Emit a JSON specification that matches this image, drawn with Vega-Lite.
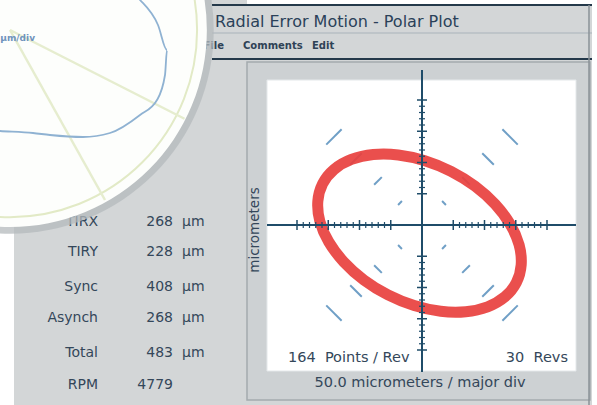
{
  "$schema": "https://vega.github.io/schema/vega-lite/v6.json",
  "width": 597,
  "height": 405,
  "autosize": {"type": "none"},
  "padding": 0,
  "background": "#ffffff",
  "config": {"view": {"stroke": null}},
  "datasets": {
    "panels": [
      {"kind": "gray", "x": -336, "x2": 272, "y": 352, "y2": -288},
      {"kind": "gray", "x": -652.8, "x2": -280, "y": 360, "y2": -288},
      {"kind": "frame", "x": -280, "x2": 268.8, "y": 260.8, "y2": -280},
      {"kind": "plot", "x": -248, "x2": 246.4, "y": 232, "y2": -233.6}
    ],
    "lines": [
      {"kind": "dark", "x": -336, "x2": 272, "y": 352, "y2": 352},
      {"kind": "light", "x": -336, "x2": 272, "y": 307.2, "y2": 307.2},
      {"kind": "dark", "x": -336, "x2": 272, "y": 265.6, "y2": 265.6},
      {"kind": "border", "x": 267.2, "x2": 267.2, "y": 352, "y2": -288},
      {"kind": "axis", "x": -248, "x2": 246.4, "y": 0, "y2": 0},
      {"kind": "axis", "x": 0, "x2": 0, "y": 248, "y2": -235.2}
    ],
    "arcs": [
      {"x": 38.3, "y": 32.1, "x2": 32.1, "y2": 38.3},
      {"x": 76.6, "y": 64.3, "x2": 64.3, "y2": 76.6},
      {"x": 114.9, "y": 96.4, "x2": 96.4, "y2": 114.9},
      {"x": 153.2, "y": 128.6, "x2": 128.6, "y2": 153.2},
      {"x": -32.1, "y": 38.3, "x2": -38.3, "y2": 32.1},
      {"x": -64.3, "y": 76.6, "x2": -76.6, "y2": 64.3},
      {"x": -96.4, "y": 114.9, "x2": -114.9, "y2": 96.4},
      {"x": -128.6, "y": 153.2, "x2": -153.2, "y2": 128.6},
      {"x": -38.3, "y": -32.1, "x2": -32.1, "y2": -38.3},
      {"x": -76.6, "y": -64.3, "x2": -64.3, "y2": -76.6},
      {"x": -114.9, "y": -96.4, "x2": -96.4, "y2": -114.9},
      {"x": -153.2, "y": -128.6, "x2": -128.6, "y2": -153.2},
      {"x": 32.1, "y": -38.3, "x2": 38.3, "y2": -32.1},
      {"x": 64.3, "y": -76.6, "x2": 76.6, "y2": -64.3},
      {"x": 96.4, "y": -114.9, "x2": 114.9, "y2": -96.4},
      {"x": 128.6, "y": -153.2, "x2": 153.2, "y2": -128.6}
    ],
    "ellipse": [
      {"i": 0, "x": 151, "y": -92},
      {"i": 1, "x": 158.7, "y": -63.7},
      {"i": 2, "x": 155.4, "y": -31.9},
      {"i": 3, "x": 141.2, "y": 1},
      {"i": 4, "x": 117.1, "y": 33.1},
      {"i": 5, "x": 84.8, "y": 62.1},
      {"i": 6, "x": 46.4, "y": 85.9},
      {"i": 7, "x": 4.6, "y": 102.9},
      {"i": 8, "x": -37.9, "y": 112.1},
      {"i": 9, "x": -78, "y": 112.8},
      {"i": 10, "x": -113, "y": 104.9},
      {"i": 11, "x": -140.7, "y": 88.9},
      {"i": 12, "x": -159, "y": 66},
      {"i": 13, "x": -166.7, "y": 37.7},
      {"i": 14, "x": -163.4, "y": 5.9},
      {"i": 15, "x": -149.2, "y": -27},
      {"i": 16, "x": -125.1, "y": -59.1},
      {"i": 17, "x": -92.8, "y": -88.1},
      {"i": 18, "x": -54.4, "y": -111.9},
      {"i": 19, "x": -12.6, "y": -128.9},
      {"i": 20, "x": 29.9, "y": -138.1},
      {"i": 21, "x": 70, "y": -138.8},
      {"i": 22, "x": 105, "y": -130.9},
      {"i": 23, "x": 132.7, "y": -114.9}
    ],
    "ticks": [
      {"pos": 50, "kind": "major"}, {"pos": 60, "kind": "minor"}, {"pos": 70, "kind": "minor"}, {"pos": 80, "kind": "minor"}, {"pos": 90, "kind": "minor"},
      {"pos": 100, "kind": "major"}, {"pos": 110, "kind": "minor"}, {"pos": 120, "kind": "minor"}, {"pos": 130, "kind": "minor"}, {"pos": 140, "kind": "minor"},
      {"pos": 150, "kind": "major"}, {"pos": 160, "kind": "minor"}, {"pos": 170, "kind": "minor"}, {"pos": 180, "kind": "minor"}, {"pos": 190, "kind": "minor"},
      {"pos": 200, "kind": "major"},
      {"pos": -50, "kind": "major"}, {"pos": -60, "kind": "minor"}, {"pos": -70, "kind": "minor"}, {"pos": -80, "kind": "minor"}, {"pos": -90, "kind": "minor"},
      {"pos": -100, "kind": "major"}, {"pos": -110, "kind": "minor"}, {"pos": -120, "kind": "minor"}, {"pos": -130, "kind": "minor"}, {"pos": -140, "kind": "minor"},
      {"pos": -150, "kind": "major"}, {"pos": -160, "kind": "minor"}, {"pos": -170, "kind": "minor"}, {"pos": -180, "kind": "minor"}, {"pos": -190, "kind": "minor"},
      {"pos": -200, "kind": "major"}
    ],
    "texts": [
      {"role": "label", "x": -518.4, "y": 4.8, "text": "TIRX"},
      {"role": "label", "x": -518.4, "y": -43.2, "text": "TIRY"},
      {"role": "label", "x": -518.4, "y": -99.2, "text": "Sync"},
      {"role": "label", "x": -518.4, "y": -148.8, "text": "Asynch"},
      {"role": "label", "x": -518.4, "y": -204.8, "text": "Total"},
      {"role": "label", "x": -518.4, "y": -256, "text": "RPM"},
      {"role": "value", "x": -398.4, "y": 4.8, "text": "268"},
      {"role": "value", "x": -398.4, "y": -43.2, "text": "228"},
      {"role": "value", "x": -398.4, "y": -99.2, "text": "408"},
      {"role": "value", "x": -398.4, "y": -148.8, "text": "268"},
      {"role": "value", "x": -398.4, "y": -204.8, "text": "483"},
      {"role": "value", "x": -398.4, "y": -256, "text": "4779"},
      {"role": "unit", "x": -384, "y": 4.8, "text": "µm"},
      {"role": "unit", "x": -384, "y": -43.2, "text": "µm"},
      {"role": "unit", "x": -384, "y": -99.2, "text": "µm"},
      {"role": "unit", "x": -384, "y": -148.8, "text": "µm"},
      {"role": "unit", "x": -384, "y": -204.8, "text": "µm"},
      {"role": "title", "x": -331.2, "y": 324.8, "text": "Radial Error Motion - Polar Plot"},
      {"role": "menuR", "x": -316.8, "y": 286.4, "text": "File"},
      {"role": "menuL", "x": -286.4, "y": 286.4, "text": "Comments"},
      {"role": "menuL", "x": -176, "y": 286.4, "text": "Edit"},
      {"role": "plotL", "x": -214.4, "y": -212.8, "text": "164\u00a0 Points / Rev"},
      {"role": "plotR", "x": 233.6, "y": -212.8, "text": "30\u00a0 Revs"},
      {"role": "plotC", "x": -3.2, "y": -252.8, "text": "50.0 micrometers / major div"},
      {"role": "ytitle", "x": -267.2, "y": -8, "text": "micrometers"},
      {"role": "blue", "x": -619.2, "y": 299.2, "text": "µm/div"}
    ],
    "inset": [{"x": -659.2, "y": 312}],
    "radials": [
      {"x": -659.2, "y": 312, "x2": -380, "y2": 170},
      {"x": -659.2, "y": 312, "x2": -507.2, "y2": 40}
    ],
    "trace": [
      {"i": 0, "x": -470.4, "y": 376},
      {"i": 1, "x": -451.2, "y": 360},
      {"i": 2, "x": -422.4, "y": 320},
      {"i": 3, "x": -408, "y": 280},
      {"i": 4, "x": -411.2, "y": 240},
      {"i": 5, "x": -424, "y": 200},
      {"i": 6, "x": -451.2, "y": 176},
      {"i": 7, "x": -499.2, "y": 147.2},
      {"i": 8, "x": -542.4, "y": 140.8},
      {"i": 9, "x": -595.2, "y": 144},
      {"i": 10, "x": -622.4, "y": 147.2},
      {"i": 11, "x": -675.2, "y": 150.4},
      {"i": 12, "x": -699.2, "y": 152}
    ]
  },
  "layer": [
    {
      "data": {"name": "panels"},
      "transform": [{"filter": "datum.kind === 'gray'"}],
      "mark": {"type": "rect", "color": "#d3d6d7"},
      "encoding": {
        "x": {"field": "x", "type": "quantitative", "scale": {"domain": [-675.2, 280], "nice": false, "zero": false}, "axis": null},
        "x2": {"field": "x2"},
        "y": {"field": "y", "type": "quantitative", "scale": {"domain": [-288, 360], "nice": false, "zero": false}, "axis": null},
        "y2": {"field": "y2"}
      }
    },
    {
      "data": {"name": "panels"},
      "transform": [{"filter": "datum.kind === 'frame'"}],
      "mark": {"type": "rect", "fill": "#cdd1d3", "stroke": "#a4aaae", "strokeWidth": 1.5},
      "encoding": {
        "x": {"field": "x", "type": "quantitative", "scale": {"domain": [-675.2, 280], "nice": false, "zero": false}, "axis": null},
        "x2": {"field": "x2"},
        "y": {"field": "y", "type": "quantitative", "scale": {"domain": [-288, 360], "nice": false, "zero": false}, "axis": null},
        "y2": {"field": "y2"}
      }
    },
    {
      "data": {"name": "panels"},
      "transform": [{"filter": "datum.kind === 'plot'"}],
      "mark": {"type": "rect", "fill": "#ffffff", "stroke": "#e4e8ea", "strokeWidth": 1},
      "encoding": {
        "x": {"field": "x", "type": "quantitative", "scale": {"domain": [-675.2, 280], "nice": false, "zero": false}, "axis": null},
        "x2": {"field": "x2"},
        "y": {"field": "y", "type": "quantitative", "scale": {"domain": [-288, 360], "nice": false, "zero": false}, "axis": null},
        "y2": {"field": "y2"}
      }
    },
    {
      "data": {"name": "lines"},
      "transform": [{"filter": "datum.kind === 'dark'"}],
      "mark": {"type": "rule", "color": "#24394a", "strokeWidth": 2},
      "encoding": {
        "x": {"field": "x", "type": "quantitative", "scale": {"domain": [-675.2, 280], "nice": false, "zero": false}, "axis": null},
        "x2": {"field": "x2"},
        "y": {"field": "y", "type": "quantitative", "scale": {"domain": [-288, 360], "nice": false, "zero": false}, "axis": null},
        "y2": {"field": "y2"}
      }
    },
    {
      "data": {"name": "lines"},
      "transform": [{"filter": "datum.kind === 'light'"}],
      "mark": {"type": "rule", "color": "#a9b3ba", "strokeWidth": 1},
      "encoding": {
        "x": {"field": "x", "type": "quantitative", "scale": {"domain": [-675.2, 280], "nice": false, "zero": false}, "axis": null},
        "x2": {"field": "x2"},
        "y": {"field": "y", "type": "quantitative", "scale": {"domain": [-288, 360], "nice": false, "zero": false}, "axis": null},
        "y2": {"field": "y2"}
      }
    },
    {
      "data": {"name": "lines"},
      "transform": [{"filter": "datum.kind === 'border'"}],
      "mark": {"type": "rule", "color": "#8a9297", "strokeWidth": 1.5},
      "encoding": {
        "x": {"field": "x", "type": "quantitative", "scale": {"domain": [-675.2, 280], "nice": false, "zero": false}, "axis": null},
        "x2": {"field": "x2"},
        "y": {"field": "y", "type": "quantitative", "scale": {"domain": [-288, 360], "nice": false, "zero": false}, "axis": null},
        "y2": {"field": "y2"}
      }
    },
    {
      "data": {"name": "arcs"},
      "mark": {"type": "rule", "color": "#6f9fc6", "strokeWidth": 2},
      "encoding": {
        "x": {"field": "x", "type": "quantitative", "scale": {"domain": [-675.2, 280], "nice": false, "zero": false}, "axis": null},
        "x2": {"field": "x2"},
        "y": {"field": "y", "type": "quantitative", "scale": {"domain": [-288, 360], "nice": false, "zero": false}, "axis": null},
        "y2": {"field": "y2"}
      }
    },
    {
      "data": {"name": "ellipse"},
      "mark": {"type": "line", "color": "#e8403e", "strokeWidth": 11, "interpolate": "cardinal-closed", "opacity": 0.92},
      "encoding": {
        "x": {"field": "x", "type": "quantitative", "scale": {"domain": [-675.2, 280], "nice": false, "zero": false}, "axis": null},
        "y": {"field": "y", "type": "quantitative", "scale": {"domain": [-288, 360], "nice": false, "zero": false}, "axis": null},
        "order": {"field": "i", "type": "quantitative"}
      }
    },
    {
      "data": {"name": "lines"},
      "transform": [{"filter": "datum.kind === 'axis'"}],
      "mark": {"type": "rule", "color": "#1f4c69", "strokeWidth": 2},
      "encoding": {
        "x": {"field": "x", "type": "quantitative", "scale": {"domain": [-675.2, 280], "nice": false, "zero": false}, "axis": null},
        "x2": {"field": "x2"},
        "y": {"field": "y", "type": "quantitative", "scale": {"domain": [-288, 360], "nice": false, "zero": false}, "axis": null},
        "y2": {"field": "y2"}
      }
    },
    {
      "data": {"name": "ticks"},
      "transform": [{"filter": "datum.kind === 'major'"}],
      "mark": {"type": "rule", "color": "#1f4c69", "strokeWidth": 1.5},
      "encoding": {
        "x": {"field": "pos", "type": "quantitative", "scale": {"domain": [-675.2, 280], "nice": false, "zero": false}, "axis": null},
        "y": {"datum": -8, "type": "quantitative", "scale": {"domain": [-288, 360], "nice": false, "zero": false}, "axis": null},
        "y2": {"datum": 8}
      }
    },
    {
      "data": {"name": "ticks"},
      "transform": [{"filter": "datum.kind === 'minor'"}],
      "mark": {"type": "rule", "color": "#1f4c69", "strokeWidth": 1.2},
      "encoding": {
        "x": {"field": "pos", "type": "quantitative", "scale": {"domain": [-675.2, 280], "nice": false, "zero": false}, "axis": null},
        "y": {"datum": -4.8, "type": "quantitative", "scale": {"domain": [-288, 360], "nice": false, "zero": false}, "axis": null},
        "y2": {"datum": 4.8}
      }
    },
    {
      "data": {"name": "ticks"},
      "transform": [{"filter": "datum.kind === 'major'"}],
      "mark": {"type": "rule", "color": "#1f4c69", "strokeWidth": 1.5},
      "encoding": {
        "y": {"field": "pos", "type": "quantitative", "scale": {"domain": [-288, 360], "nice": false, "zero": false}, "axis": null},
        "x": {"datum": -8, "type": "quantitative", "scale": {"domain": [-675.2, 280], "nice": false, "zero": false}, "axis": null},
        "x2": {"datum": 8}
      }
    },
    {
      "data": {"name": "ticks"},
      "transform": [{"filter": "datum.kind === 'minor'"}],
      "mark": {"type": "rule", "color": "#1f4c69", "strokeWidth": 1.2},
      "encoding": {
        "y": {"field": "pos", "type": "quantitative", "scale": {"domain": [-288, 360], "nice": false, "zero": false}, "axis": null},
        "x": {"datum": -4.8, "type": "quantitative", "scale": {"domain": [-675.2, 280], "nice": false, "zero": false}, "axis": null},
        "x2": {"datum": 4.8}
      }
    },
    {
      "data": {"name": "texts"},
      "transform": [{"filter": "datum.role === 'label' || datum.role === 'value'"}],
      "mark": {"type": "text", "align": "right", "baseline": "middle", "font": "DejaVu Sans", "fontSize": 14, "color": "#34475a"},
      "encoding": {
        "x": {"field": "x", "type": "quantitative", "scale": {"domain": [-675.2, 280], "nice": false, "zero": false}, "axis": null},
        "y": {"field": "y", "type": "quantitative", "scale": {"domain": [-288, 360], "nice": false, "zero": false}, "axis": null},
        "text": {"field": "text"}
      }
    },
    {
      "data": {"name": "texts"},
      "transform": [{"filter": "datum.role === 'unit'"}],
      "mark": {"type": "text", "align": "left", "baseline": "middle", "font": "DejaVu Sans", "fontSize": 14, "color": "#34475a"},
      "encoding": {
        "x": {"field": "x", "type": "quantitative", "scale": {"domain": [-675.2, 280], "nice": false, "zero": false}, "axis": null},
        "y": {"field": "y", "type": "quantitative", "scale": {"domain": [-288, 360], "nice": false, "zero": false}, "axis": null},
        "text": {"field": "text"}
      }
    },
    {
      "data": {"name": "texts"},
      "transform": [{"filter": "datum.role === 'title'"}],
      "mark": {"type": "text", "align": "left", "baseline": "middle", "font": "DejaVu Sans", "fontSize": 16, "color": "#2a4159"},
      "encoding": {
        "x": {"field": "x", "type": "quantitative", "scale": {"domain": [-675.2, 280], "nice": false, "zero": false}, "axis": null},
        "y": {"field": "y", "type": "quantitative", "scale": {"domain": [-288, 360], "nice": false, "zero": false}, "axis": null},
        "text": {"field": "text"}
      }
    },
    {
      "data": {"name": "texts"},
      "transform": [{"filter": "datum.role === 'menuR'"}],
      "mark": {"type": "text", "align": "right", "baseline": "middle", "font": "DejaVu Sans", "fontSize": 10, "fontWeight": "bold", "color": "#2f4256"},
      "encoding": {
        "x": {"field": "x", "type": "quantitative", "scale": {"domain": [-675.2, 280], "nice": false, "zero": false}, "axis": null},
        "y": {"field": "y", "type": "quantitative", "scale": {"domain": [-288, 360], "nice": false, "zero": false}, "axis": null},
        "text": {"field": "text"}
      }
    },
    {
      "data": {"name": "texts"},
      "transform": [{"filter": "datum.role === 'menuL'"}],
      "mark": {"type": "text", "align": "left", "baseline": "middle", "font": "DejaVu Sans", "fontSize": 10, "fontWeight": "bold", "color": "#2f4256"},
      "encoding": {
        "x": {"field": "x", "type": "quantitative", "scale": {"domain": [-675.2, 280], "nice": false, "zero": false}, "axis": null},
        "y": {"field": "y", "type": "quantitative", "scale": {"domain": [-288, 360], "nice": false, "zero": false}, "axis": null},
        "text": {"field": "text"}
      }
    },
    {
      "data": {"name": "texts"},
      "transform": [{"filter": "datum.role === 'plotL'"}],
      "mark": {"type": "text", "align": "left", "baseline": "middle", "font": "DejaVu Sans", "fontSize": 14.5, "color": "#34475a"},
      "encoding": {
        "x": {"field": "x", "type": "quantitative", "scale": {"domain": [-675.2, 280], "nice": false, "zero": false}, "axis": null},
        "y": {"field": "y", "type": "quantitative", "scale": {"domain": [-288, 360], "nice": false, "zero": false}, "axis": null},
        "text": {"field": "text"}
      }
    },
    {
      "data": {"name": "texts"},
      "transform": [{"filter": "datum.role === 'plotR'"}],
      "mark": {"type": "text", "align": "right", "baseline": "middle", "font": "DejaVu Sans", "fontSize": 14.5, "color": "#34475a"},
      "encoding": {
        "x": {"field": "x", "type": "quantitative", "scale": {"domain": [-675.2, 280], "nice": false, "zero": false}, "axis": null},
        "y": {"field": "y", "type": "quantitative", "scale": {"domain": [-288, 360], "nice": false, "zero": false}, "axis": null},
        "text": {"field": "text"}
      }
    },
    {
      "data": {"name": "texts"},
      "transform": [{"filter": "datum.role === 'plotC'"}],
      "mark": {"type": "text", "align": "center", "baseline": "middle", "font": "DejaVu Sans", "fontSize": 14.5, "color": "#34475a"},
      "encoding": {
        "x": {"field": "x", "type": "quantitative", "scale": {"domain": [-675.2, 280], "nice": false, "zero": false}, "axis": null},
        "y": {"field": "y", "type": "quantitative", "scale": {"domain": [-288, 360], "nice": false, "zero": false}, "axis": null},
        "text": {"field": "text"}
      }
    },
    {
      "data": {"name": "texts"},
      "transform": [{"filter": "datum.role === 'ytitle'"}],
      "mark": {"type": "text", "align": "center", "baseline": "middle", "angle": 270, "font": "DejaVu Sans", "fontSize": 13.5, "color": "#34475a"},
      "encoding": {
        "x": {"field": "x", "type": "quantitative", "scale": {"domain": [-675.2, 280], "nice": false, "zero": false}, "axis": null},
        "y": {"field": "y", "type": "quantitative", "scale": {"domain": [-288, 360], "nice": false, "zero": false}, "axis": null},
        "text": {"field": "text"}
      }
    },
    {
      "data": {"name": "inset"},
      "mark": {"type": "point", "shape": "circle", "filled": true, "color": "#b4b9bc", "opacity": 0.75, "size": 166000},
      "encoding": {
        "x": {"field": "x", "type": "quantitative", "scale": {"domain": [-675.2, 280], "nice": false, "zero": false}, "axis": null},
        "y": {"field": "y", "type": "quantitative", "scale": {"domain": [-288, 360], "nice": false, "zero": false}, "axis": null}
      }
    },
    {
      "data": {"name": "inset"},
      "mark": {"type": "point", "shape": "circle", "filled": true, "color": "#fdfefc", "opacity": 1, "size": 155000},
      "encoding": {
        "x": {"field": "x", "type": "quantitative", "scale": {"domain": [-675.2, 280], "nice": false, "zero": false}, "axis": null},
        "y": {"field": "y", "type": "quantitative", "scale": {"domain": [-288, 360], "nice": false, "zero": false}, "axis": null}
      }
    },
    {
      "data": {"name": "inset"},
      "mark": {"type": "point", "shape": "circle", "filled": false, "stroke": "#e2eac6", "strokeWidth": 2, "opacity": 1, "size": 140000},
      "encoding": {
        "x": {"field": "x", "type": "quantitative", "scale": {"domain": [-675.2, 280], "nice": false, "zero": false}, "axis": null},
        "y": {"field": "y", "type": "quantitative", "scale": {"domain": [-288, 360], "nice": false, "zero": false}, "axis": null}
      }
    },
    {
      "data": {"name": "radials"},
      "mark": {"type": "rule", "color": "#e6edcf", "strokeWidth": 2.5},
      "encoding": {
        "x": {"field": "x", "type": "quantitative", "scale": {"domain": [-675.2, 280], "nice": false, "zero": false}, "axis": null},
        "x2": {"field": "x2"},
        "y": {"field": "y", "type": "quantitative", "scale": {"domain": [-288, 360], "nice": false, "zero": false}, "axis": null},
        "y2": {"field": "y2"}
      }
    },
    {
      "data": {"name": "trace"},
      "mark": {"type": "line", "color": "#8fb2d2", "strokeWidth": 1.8, "interpolate": "monotone"},
      "encoding": {
        "x": {"field": "x", "type": "quantitative", "scale": {"domain": [-675.2, 280], "nice": false, "zero": false}, "axis": null},
        "y": {"field": "y", "type": "quantitative", "scale": {"domain": [-288, 360], "nice": false, "zero": false}, "axis": null},
        "order": {"field": "i", "type": "quantitative"}
      }
    },
    {
      "data": {"name": "texts"},
      "transform": [{"filter": "datum.role === 'blue'"}],
      "mark": {"type": "text", "align": "right", "baseline": "middle", "font": "DejaVu Sans", "fontSize": 9, "fontWeight": "bold", "color": "#6f93bd"},
      "encoding": {
        "x": {"field": "x", "type": "quantitative", "scale": {"domain": [-675.2, 280], "nice": false, "zero": false}, "axis": null},
        "y": {"field": "y", "type": "quantitative", "scale": {"domain": [-288, 360], "nice": false, "zero": false}, "axis": null},
        "text": {"field": "text"}
      }
    }
  ]
}
